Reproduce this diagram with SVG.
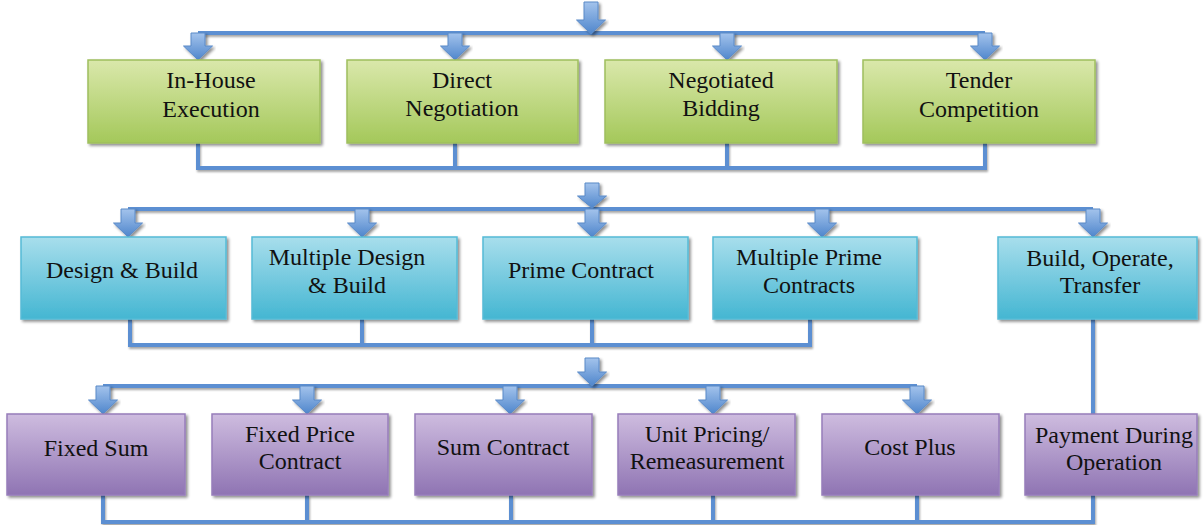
<svg xmlns="http://www.w3.org/2000/svg" width="1204" height="525" viewBox="0 0 1204 525">
  <defs>
    <linearGradient id="gGreen" x1="0" y1="0" x2="0" y2="1">
      <stop offset="0" stop-color="#DAE8AB"/>
      <stop offset="1" stop-color="#A4C85A"/>
    </linearGradient>
    <linearGradient id="gBlue" x1="0" y1="0" x2="0" y2="1">
      <stop offset="0" stop-color="#A8DEEC"/>
      <stop offset="1" stop-color="#44B6D2"/>
    </linearGradient>
    <linearGradient id="gPurple" x1="0" y1="0" x2="0" y2="1">
      <stop offset="0" stop-color="#CEBCDF"/>
      <stop offset="1" stop-color="#8F74B3"/>
    </linearGradient>
    <linearGradient id="gArrow" x1="0" y1="0" x2="0" y2="1">
      <stop offset="0" stop-color="#A3C3EC"/>
      <stop offset="1" stop-color="#4F86CC"/>
    </linearGradient>
    <filter id="shadow" x="-5%" y="-10%" width="115%" height="130%">
      <feGaussianBlur in="SourceAlpha" stdDeviation="1.5"/>
      <feOffset dx="1.5" dy="2" result="b"/>
      <feComponentTransfer><feFuncA type="linear" slope="0.45"/></feComponentTransfer>
      <feMerge><feMergeNode/><feMergeNode in="SourceGraphic"/></feMerge>
    </filter>
    <!-- user-space region so straight lines (zero-height bbox) still render -->
    <filter id="wireShadow" filterUnits="userSpaceOnUse" x="0" y="0" width="1204" height="525">
      <feGaussianBlur in="SourceAlpha" stdDeviation="1"/>
      <feOffset dx="1" dy="1.5"/>
      <feComponentTransfer><feFuncA type="linear" slope="0.35"/></feComponentTransfer>
      <feMerge><feMergeNode/><feMergeNode in="SourceGraphic"/></feMerge>
    </filter>
  </defs>
  <style>
    .green { fill: url(#gGreen); stroke: #9FBF5E; stroke-width: 1.5; filter: url(#shadow); }
    .blue { fill: url(#gBlue); stroke: #55BBD6; stroke-width: 1.5; filter: url(#shadow); }
    .purple { fill: url(#gPurple); stroke: #977DBB; stroke-width: 1.5; filter: url(#shadow); }
    .wires { fill: none; stroke: #5B8FD2; stroke-width: 4; }
    .arrow { fill: url(#gArrow); stroke: #5A8AC8; stroke-width: 1; filter: url(#shadow); }
    text { font-family: "Liberation Serif", "Times New Roman", serif; font-size: 24px; fill: #111; text-anchor: middle; }
  </style>

  <!-- connectors -->
  <g id="connectors">
    <g class="wires" filter="url(#wireShadow)">
      <!-- tier 1 -->
      <path d="M198,33 H985"/>
      <path d="M198,143 V168 H985 V143 M455,143 V168 M727,143 V168"/>
      <!-- tier 2 -->
      <path d="M128,209 H1093"/>
      <path d="M130,319 V345 H810 V319 M362,319 V345 M592,319 V345"/>
      <!-- tier 3 -->
      <path d="M103,386 H917"/>
      <path d="M1093,319 V414"/>
      <path d="M103,495 V522 H1093 V495 M307,495 V522 M511,495 V522 M713,495 V522 M917,495 V522"/>
    </g>

    <!-- block arrows -->
    <path class="arrow" d="M584,2 H598 V20 H605.5 L591,34 L576.5,20 H584 Z"/>
    <path class="arrow" d="M191,33 H205 V46 H212.5 L198,60 L183.5,46 H191 Z"/>
    <path class="arrow" d="M448,33 H462 V46 H469.5 L455,60 L440.5,46 H448 Z"/>
    <path class="arrow" d="M720,33 H734 V46 H741.5 L727,60 L712.5,46 H720 Z"/>
    <path class="arrow" d="M978,33 H992 V46 H999.5 L985,60 L970.5,46 H978 Z"/>

    <path class="arrow" d="M585,183 H599 V196 H606.5 L592,208 L577.5,196 H585 Z"/>
    <path class="arrow" d="M121,209 H135 V223 H142.5 L128,237 L113.5,223 H121 Z"/>
    <path class="arrow" d="M355,209 H369 V223 H376.5 L362,237 L347.5,223 H355 Z"/>
    <path class="arrow" d="M585,209 H599 V223 H606.5 L592,237 L577.5,223 H585 Z"/>
    <path class="arrow" d="M815,209 H829 V223 H836.5 L822,237 L807.5,223 H815 Z"/>
    <path class="arrow" d="M1086,209 H1100 V223 H1107.5 L1093,237 L1078.5,223 H1086 Z"/>

    <path class="arrow" d="M585,358 H599 V372 H606.5 L592,386 L577.5,372 H585 Z"/>
    <path class="arrow" d="M96,386 H110 V400 H117.5 L103,414 L88.5,400 H96 Z"/>
    <path class="arrow" d="M300,386 H314 V400 H321.5 L307,414 L292.5,400 H300 Z"/>
    <path class="arrow" d="M503,386 H517 V400 H524.5 L510,414 L495.5,400 H503 Z"/>
    <path class="arrow" d="M706,386 H720 V400 H727.5 L713,414 L698.5,400 H706 Z"/>
    <path class="arrow" d="M910,386 H924 V400 H931.5 L917,414 L902.5,400 H910 Z"/>
  </g>

  <!-- tier 1: procurement route -->
  <g id="in-house-execution">
    <rect class="green" x="88" y="60" width="232" height="83"/>
    <text x="211" y="88">In-House</text>
    <text x="211" y="117">Execution</text>
  </g>
  <g id="direct-negotiation">
    <rect class="green" x="347" y="60" width="231" height="83"/>
    <text x="462" y="88">Direct</text>
    <text x="462" y="116">Negotiation</text>
  </g>
  <g id="negotiated-bidding">
    <rect class="green" x="605" y="60" width="232" height="83"/>
    <text x="721" y="88">Negotiated</text>
    <text x="721" y="116">Bidding</text>
  </g>
  <g id="tender-competition">
    <rect class="green" x="863" y="60" width="232" height="83"/>
    <text x="979" y="88">Tender</text>
    <text x="979" y="117">Competition</text>
  </g>

  <!-- tier 2: delivery method -->
  <g id="design-build">
    <rect class="blue" x="21" y="237" width="205" height="82"/>
    <text x="122" y="278">Design &amp; Build</text>
  </g>
  <g id="multiple-design-build">
    <rect class="blue" x="252" y="237" width="205" height="82"/>
    <text x="347" y="265">Multiple Design</text>
    <text x="347" y="293">&amp; Build</text>
  </g>
  <g id="prime-contract">
    <rect class="blue" x="483" y="237" width="205" height="82"/>
    <text x="581" y="278">Prime Contract</text>
  </g>
  <g id="multiple-prime-contracts">
    <rect class="blue" x="713" y="237" width="204" height="82"/>
    <text x="809" y="265">Multiple Prime</text>
    <text x="809" y="293">Contracts</text>
  </g>
  <g id="build-operate-transfer">
    <rect class="blue" x="998" y="237" width="199" height="82"/>
    <text x="1100" y="266">Build, Operate,</text>
    <text x="1100" y="293">Transfer</text>
  </g>

  <!-- tier 3: payment basis -->
  <g id="fixed-sum">
    <rect class="purple" x="7" y="414" width="178" height="81"/>
    <text x="96" y="456">Fixed Sum</text>
  </g>
  <g id="fixed-price-contract">
    <rect class="purple" x="212" y="414" width="176" height="81"/>
    <text x="300" y="442">Fixed Price</text>
    <text x="300" y="469">Contract</text>
  </g>
  <g id="sum-contract">
    <rect class="purple" x="415" y="414" width="177" height="81"/>
    <text x="503" y="455">Sum Contract</text>
  </g>
  <g id="unit-pricing">
    <rect class="purple" x="618" y="414" width="177" height="81"/>
    <text x="707" y="442">Unit Pricing/</text>
    <text x="707" y="469">Remeasurement</text>
  </g>
  <g id="cost-plus">
    <rect class="purple" x="822" y="414" width="177" height="81"/>
    <text x="910" y="455">Cost Plus</text>
  </g>
  <g id="payment-during-operation">
    <rect class="purple" x="1025" y="414" width="172" height="81"/>
    <text x="1114" y="443">Payment During</text>
    <text x="1114" y="470">Operation</text>
  </g>
</svg>
